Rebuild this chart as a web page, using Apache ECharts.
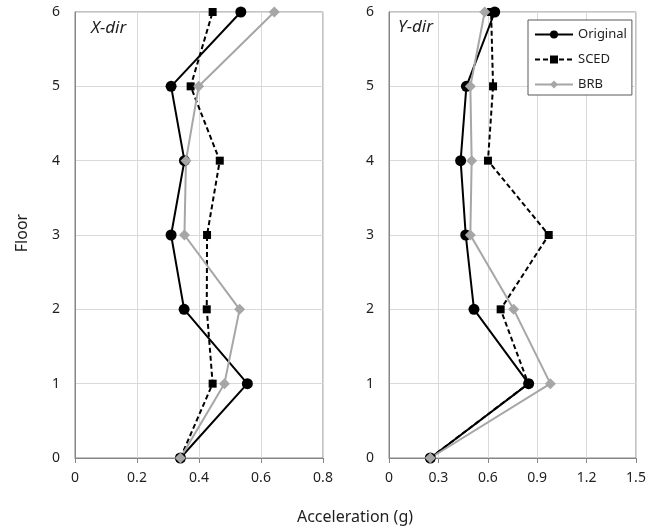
<!DOCTYPE html>
<html>
<head>
<meta charset="utf-8">
<script src="https://cdn.jsdelivr.net/npm/echarts@6/dist/echarts.min.js"></script>
<style>
  html, body { margin: 0; padding: 0; background: #fff; }
  #chart { width: 665px; height: 530px; }
</style>
</head>
<body>
<div id="chart"></div>
<script>
// floors (y values)
var floors = [0, 1, 2, 3, 4, 5, 6];

// X-dir accelerations (g), floor 0..6
var xOriginal = [0.34, 0.556, 0.352, 0.31, 0.353, 0.31, 0.535];
var xSCED     = [0.34, 0.444, 0.425, 0.426, 0.467, 0.373, 0.444];
var xBRB      = [0.34, 0.482, 0.531, 0.353, 0.358, 0.399, 0.643];

// Y-dir accelerations (g), floor 0..6
var yOriginal = [0.251, 0.848, 0.516, 0.466, 0.435, 0.47, 0.642];
var ySCED     = [0.251, 0.846, 0.678, 0.97, 0.601, 0.632, 0.62];
var yBRB      = [0.251, 0.98, 0.757, 0.494, 0.502, 0.494, 0.581];

var names = ['Original', 'SCED', 'BRB'];

function pairs(vals) {
    var res = [];
    for (var i = 0; i < vals.length; i++) {
        res.push([vals[i], floors[i]]);
    }
    return res;
}

var font = 'Noto Sans';
var textColor = '#1f1f1f';

// style for each series kind
var styles = {
    'Original': { symbol: 'circle', symbolSize: 11, color: '#000', type: 'solid' },
    'SCED':     { symbol: 'rect', symbolSize: 8, color: '#000', type: [5, 3] },
    'BRB':      { symbol: 'diamond', symbolSize: 11, color: '#a6a6a6', type: 'solid' }
};

function makeSeries(name, vals, idx) {
    var s = styles[name];
    return {
        name: name,
        type: 'line',
        xAxisIndex: idx,
        yAxisIndex: idx,
        data: pairs(vals),
        symbol: s.symbol,
        symbolSize: s.symbolSize,
        showAllSymbol: true,
        itemStyle: { color: s.color },
        lineStyle: { color: s.color, width: 2, type: s.type },
        animation: false,
        z: 2
    };
}

function xAxis(idx, max, interval) {
    return {
        type: 'value',
        gridIndex: idx,
        min: 0,
        max: max,
        interval: interval,
        axisLine: { show: true, lineStyle: { color: '#868686', width: 1 } },
        axisTick: { show: true, length: 5, lineStyle: { color: '#868686' } },
        axisLabel: { color: textColor, fontFamily: font, fontSize: 14, margin: 13 },
        splitLine: { show: true, lineStyle: { color: '#d9d9d9', width: 1 } }
    };
}

function yAxis(idx) {
    return {
        type: 'value',
        gridIndex: idx,
        min: 0,
        max: 6,
        interval: 1,
        axisLine: { show: true, lineStyle: { color: '#868686', width: 1 } },
        axisTick: { show: false },
        axisLabel: { color: textColor, fontFamily: font, fontSize: 14, margin: 15 },
        splitLine: { show: true, lineStyle: { color: '#d9d9d9', width: 1 } }
    };
}

var option = {
    backgroundColor: '#fff',
    animation: false,
    grid: [
        { left: 75, top: 12, width: 248, height: 446, show: true, borderColor: '#868686', borderWidth: 1 },
        { left: 389, top: 12, width: 247, height: 446, show: true, borderColor: '#868686', borderWidth: 1 }
    ],
    xAxis: [xAxis(0, 0.8, 0.2), xAxis(1, 1.5, 0.3)],
    yAxis: [yAxis(0), yAxis(1)],
    legend: {
        data: names,
        orient: 'vertical',
        left: 528,
        top: 20,
        itemWidth: 38,
        itemHeight: 10,
        itemGap: 12,
        padding: [8, 5, 4, 6],
        backgroundColor: '#fff',
        borderColor: '#595959',
        borderWidth: 1,
        textStyle: { color: textColor, fontFamily: font, fontSize: 13 }
    },
    graphic: [
        { type: 'text', left: 91, top: 20, style: { text: 'X-dir', fontFamily: font, fontStyle: 'italic', fontSize: 17, fill: textColor } },
        { type: 'text', left: 398, top: 19, style: { text: 'Y-dir', fontFamily: font, fontStyle: 'italic', fontSize: 17, fill: textColor } },
        { type: 'text', x: 355, y: 517, style: { text: 'Acceleration (g)', fontFamily: font, fontSize: 16, fill: textColor, align: 'center', verticalAlign: 'middle' } },
        { type: 'text', x: 22, y: 233, rotation: Math.PI / 2, style: { text: 'Floor', fontFamily: font, fontSize: 16, fill: textColor, align: 'center', verticalAlign: 'middle' } }
    ],
    series: [
        makeSeries('Original', xOriginal, 0),
        makeSeries('SCED', xSCED, 0),
        makeSeries('BRB', xBRB, 0),
        makeSeries('Original', yOriginal, 1),
        makeSeries('SCED', ySCED, 1),
        makeSeries('BRB', yBRB, 1)
    ]
};

var myChart = echarts.init(document.getElementById('chart'), null, { renderer: 'canvas' });
myChart.setOption(option);
</script>
</body>
</html>
